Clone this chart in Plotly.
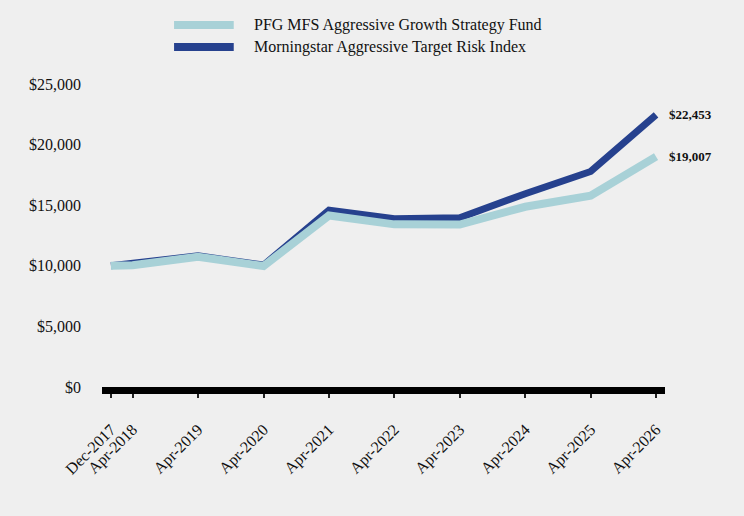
import plotly.graph_objects as go

dates = ["2017-12-01", "2018-04-01", "2019-04-01", "2020-04-01", "2021-04-01",
         "2022-04-01", "2023-04-01", "2024-04-01", "2025-04-01", "2026-04-01"]
tick_labels = ["Dec-2017", "Apr-2018", "Apr-2019", "Apr-2020", "Apr-2021",
               "Apr-2022", "Apr-2023", "Apr-2024", "Apr-2025", "Apr-2026"]
fund_name = "PFG MFS Aggressive Growth Strategy Fund"
index_name = "Morningstar Aggressive Target Risk Index"
fund_values = [10000, 10050, 10750, 9980, 14150, 13420, 13400, 14870, 15780, 19007]
index_values = [10000, 10200, 10820, 10060, 14600, 13880, 13960, 15950, 17780, 22453]
y_ticks = [0, 5000, 10000, 15000, 20000, 25000]

FUND_COLOR = "#a8d1d7"
INDEX_COLOR = "#26418e"
FONT = "Liberation Serif, Times New Roman, serif"

fig = go.Figure()
fig.add_trace(go.Scatter(x=dates, y=index_values, mode="lines", name=index_name,
                         line=dict(color=INDEX_COLOR, width=7), showlegend=False))
fig.add_trace(go.Scatter(x=dates, y=fund_values, mode="lines", name=fund_name,
                         line=dict(color=FUND_COLOR, width=8), showlegend=False))

# end-value labels
for val in (index_values[-1], fund_values[-1]):
    fig.add_annotation(x=dates[-1], y=val, text=f"<b>${val:,}</b>", showarrow=False,
                       xanchor="left", yanchor="middle", xshift=11,
                       font=dict(family=FONT, size=13, color="#111"))

# legend (drawn with wide swatches like the reference)
legend_items = [(fund_name, FUND_COLOR, 1.195), (index_name, INDEX_COLOR, 1.122)]
for name, color, ly in legend_items:
    fig.add_shape(type="line", xref="paper", yref="paper", x0=0.128, x1=0.234,
                  y0=ly, y1=ly, line=dict(color=color, width=8))
    fig.add_annotation(xref="paper", yref="paper", x=0.266, y=ly, text=name,
                       showarrow=False, xanchor="left", yanchor="middle",
                       font=dict(family=FONT, size=16, color="#111"))

fig.update_layout(
    width=744, height=516,
    paper_bgcolor="#efefef", plot_bgcolor="#efefef",
    margin=dict(l=102, r=79, t=84, b=129),
    font=dict(family=FONT, size=16, color="#111"),
    showlegend=False,
    xaxis=dict(type="date", range=["2017-10-12", "2026-05-21"],
               tickvals=dates, ticktext=tick_labels, tickangle=-45,
               showgrid=False, zeroline=False,
               showline=True, linecolor="#000", linewidth=7,
               ticks="outside", ticklen=4, tickwidth=2, tickcolor="#222",
               ticklabelstandoff=16,
               tickfont=dict(family=FONT, size=16, color="#111")),
    yaxis=dict(range=[0, 25000], tickvals=y_ticks,
               ticktext=[f"${v:,}" for v in y_ticks],
               showgrid=False, zeroline=False, showline=False, ticks="",
               ticklabelstandoff=20,
               tickfont=dict(family=FONT, size=16, color="#111")),
)

fig.write_html("out.html")
